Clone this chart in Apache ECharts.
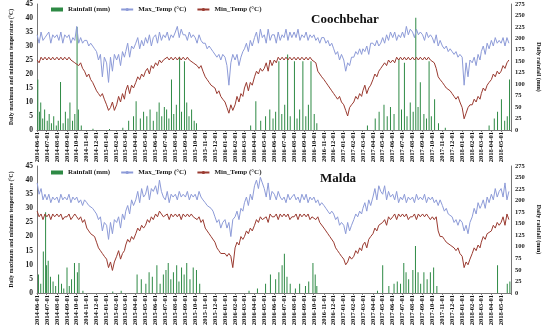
<!DOCTYPE html>
<html><head><meta charset="utf-8">
<script src="https://cdn.jsdelivr.net/npm/echarts@6/dist/echarts.min.js"></script>
<style>html,body{margin:0;padding:0;background:#fff}#c{width:550px;height:332px}</style>
</head><body><div id="c"></div>
<script>
// Month tick labels (x axis)
const tickLabels = [
'2014-06-01','2014-07-01','2014-08-01','2014-09-01','2014-10-01','2014-11-01','2014-12-01',
'2015-01-01','2015-02-01','2015-03-01','2015-04-01','2015-05-01','2015-06-01','2015-07-01','2015-08-01','2015-09-01','2015-10-01','2015-11-01','2015-12-01',
'2016-01-01','2016-02-01','2016-03-01','2016-04-01','2016-05-01','2016-06-01','2016-07-01','2016-08-01','2016-09-01','2016-10-01','2016-11-01','2016-12-01',
'2017-01-01','2017-02-01','2017-03-01','2017-04-01','2017-05-01','2017-06-01','2017-07-01','2017-08-01','2017-09-01','2017-10-01','2017-11-01','2017-12-01',
'2018-01-01','2018-02-01','2018-03-01','2018-04-01','2018-05-01'];
const sampleDays = ['01','07','13','19','25'];

// Coochbehar – five readings per month, Jun 2014 .. May 2018
const coochMax = [
34,31,35,32,33, 33,35,31,34,33, 34,32,35,31,34, 33,34,31,33,32, 37,31,33,31,32, 32,30,31,30,29, 28,25,27,19,26,
24,17,26,21,27, 25,27,23,28,26, 28,31,26,30,29, 31,33,29,32,30, 33,31,34,30,33, 34,31,35,32,34, 33,35,32,34,33,
35,37,33,36,34, 34,32,35,33,34, 33,31,34,32,31, 31,29,30,29,28, 28,26,27,25,27,
26,23,16,24,27, 25,27,23,26,28, 29,31,28,32,30, 33,35,31,36,33, 34,31,36,32,34, 34,31,35,32,34, 33,36,32,35,33,
35,33,36,32,34, 33,35,32,34,33, 34,32,33,31,33, 33,31,32,30,31, 29,27,28,25,27,
25,21,24,23,26, 26,28,27,29,27, 29,28,30,27,31, 31,30,32,30,31, 33,31,34,32,35, 33,35,32,34,33, 35,33,37,34,36,
35,33,36,34,35, 34,32,35,33,34, 33,31,34,30,32, 30,29,30,28,29, 28,27,28,26,27,
26,16,24,19,25, 24,26,23,27,25, 28,30,27,31,29, 32,30,33,31,32, 31,33,30,33,31];
const coochMin = [
25,24,26,25,26, 25,26,25,26,25, 26,25,26,25,26, 25,26,25,25,24, 24,23,24,22,21, 19,20,18,17,17, 14,13,12,13,11,
9,7,8,10,7, 9,12,10,13,11, 14,16,13,16,15, 17,19,18,20,19, 21,22,20,23,22, 24,23,25,24,25, 25,26,25,26,25,
26,25,26,25,26, 25,26,25,25,24, 24,23,22,23,21, 19,18,17,16,16, 15,13,14,12,11,
10,8,6,9,7, 9,12,10,13,12, 15,17,14,17,16, 19,21,20,22,21, 22,24,21,25,23, 25,24,26,25,26, 25,26,25,26,25,
26,25,26,25,26, 25,26,25,26,25, 25,24,21,20,19, 18,17,16,15,14, 13,12,11,12,10,
9,7,5,8,9, 10,12,11,13,12, 14,16,13,15,16, 18,20,19,21,22, 22,24,23,25,24, 25,24,26,25,26, 25,26,25,26,25,
26,25,26,25,26, 25,26,25,26,25, 25,24,22,19,18, 17,16,15,15,14, 13,12,11,12,10,
8,4,6,8,9, 9,11,10,12,11, 13,15,14,16,17, 18,20,19,21,20, 21,23,22,24,25];
const coochRain = [
['2014-06-03',110],['2014-06-08',40],['2014-06-12',60],['2014-06-18',25],['2014-06-24',45],
['2014-07-02',20],['2014-07-08',35],['2014-07-15',15],['2014-07-22',30],['2014-07-30',10],
['2014-08-05',20],['2014-08-12',105],['2014-08-20',15],['2014-08-27',40],
['2014-09-04',25],['2014-09-10',60],['2014-09-18',20],['2014-09-25',35],
['2014-10-02',225],['2014-10-06',45],['2014-10-15',10],['2014-11-20',3],
['2015-01-10',2],['2015-02-20',5],['2015-03-10',20],['2015-03-25',30],
['2015-04-02',63],['2015-04-15',25],['2015-04-25',40],['2015-05-05',30],['2015-05-15',45],['2015-05-25',20],
['2015-06-05',40],['2015-06-12',60],['2015-06-20',30],['2015-06-28',50],
['2015-07-05',45],['2015-07-12',25],['2015-07-20',110],['2015-07-27',35],
['2015-08-04',55],['2015-08-14',160],['2015-08-20',40],['2015-08-29',150],
['2015-09-05',60],['2015-09-12',30],['2015-09-20',45],['2015-09-28',20],['2015-10-05',15],
['2016-03-20',10],['2016-04-05',63],['2016-04-20',20],['2016-05-05',30],['2016-05-18',45],['2016-05-28',25],
['2016-06-05',40],['2016-06-15',150],['2016-06-24',35],['2016-07-03',55],['2016-07-12',165],['2016-07-20',30],
['2016-08-02',150],['2016-08-10',25],['2016-08-18',45],['2016-08-28',150],
['2016-09-06',30],['2016-09-14',55],['2016-09-22',150],['2016-10-02',35],['2016-10-10',15],
['2017-03-15',10],['2017-04-08',25],['2017-04-20',40],['2017-05-05',55],['2017-05-15',30],['2017-05-25',50],
['2017-06-05',35],['2017-06-20',155],['2017-06-28',45],['2017-07-07',147],['2017-07-15',30],['2017-07-25',60],
['2017-08-03',40],['2017-08-11',245],['2017-08-18',50],['2017-08-25',104],
['2017-09-05',35],['2017-09-13',25],['2017-09-21',150],['2017-09-28',30],['2017-10-08',67],['2017-10-20',15],
['2017-11-10',5],['2018-03-25',10],['2018-04-10',25],['2018-04-20',40],
['2018-05-02',67],['2018-05-12',20],['2018-05-20',30],['2018-05-27',110]];

// Malda
const maldaMax = [
39,35,37,33,35, 33,35,32,34,33, 34,32,35,33,34, 33,35,32,34,33, 34,32,33,31,33, 32,31,31,30,29, 28,26,27,22,25,
24,19,25,21,26, 25,27,23,28,26, 29,31,28,33,31, 33,36,32,37,34, 35,38,33,37,36, 38,35,40,36,34, 33,36,32,35,34,
35,33,36,34,35, 34,36,33,35,34, 35,33,36,34,33, 32,31,31,30,29, 27,25,26,23,25,
26,23,25,20,26, 27,29,26,30,29, 32,34,31,35,33, 38,40,37,41,39, 37,34,39,33,36, 35,33,36,34,33, 34,32,35,33,34,
35,33,34,32,35, 33,35,32,34,33, 34,32,33,31,32, 31,30,29,28,29, 28,26,27,24,25,
24,21,25,22,24, 26,28,27,29,28, 30,32,29,33,31, 34,37,33,38,36, 35,38,33,36,34, 35,33,36,32,34, 33,35,32,34,33,
34,32,35,33,34, 33,35,32,34,33, 34,32,33,31,33, 31,29,30,28,28, 27,25,26,24,26,
25,22,24,21,25, 27,30,28,32,30, 31,33,30,34,32, 35,33,37,34,36, 37,34,39,33,36];
const maldaMin = [
29,27,28,26,28, 27,28,26,28,27, 28,27,28,26,27, 27,28,26,27,28, 27,26,27,25,26, 23,22,21,21,20, 18,16,15,14,13,
12,9,11,8,11, 13,15,12,14,15, 17,19,18,20,19, 21,23,22,24,23, 24,26,25,27,26, 28,27,29,28,27, 27,28,26,28,27,
28,27,28,26,28, 27,28,27,28,27, 27,26,27,25,26, 23,22,21,20,20, 18,16,15,14,14,
14,13,14,13,9, 16,18,17,20,19, 20,22,21,23,22, 24,26,25,27,26, 26,27,25,28,27, 27,28,26,28,27, 28,27,28,26,27,
27,28,26,28,27, 28,27,28,26,27, 27,26,27,25,25, 23,22,21,20,20, 18,16,15,14,13,
12,10,11,13,12, 13,15,14,16,15, 17,18,16,19,20, 21,23,22,24,24, 25,26,24,27,26, 27,28,26,28,27, 28,27,28,26,27,
27,28,26,28,27, 28,27,28,27,26, 27,26,27,22,20, 20,19,18,18,17, 17,16,15,16,14,
13,9,11,10,12, 14,16,15,17,16, 18,20,19,21,21, 22,24,23,25,24, 25,27,24,28,26];
const maldaRain = [
['2014-06-05',40],['2014-06-12',20],['2014-06-20',90],['2014-06-27',175],['2014-06-30',60],
['2014-07-05',70],['2014-07-12',35],['2014-07-20',25],['2014-07-28',15],
['2014-08-06',40],['2014-08-15',20],['2014-08-22',10],
['2014-09-01',55],['2014-09-08',15],['2014-09-15',30],['2014-09-24',65],
['2014-10-03',45],['2014-10-08',65],['2014-10-20',5],['2015-01-20',3],['2015-02-15',5],
['2015-04-05',40],['2015-04-18',30],['2015-05-02',20],['2015-05-12',45],['2015-05-22',35],
['2015-06-05',60],['2015-06-15',20],['2015-06-25',40],['2015-07-03',50],['2015-07-10',65],['2015-07-18',30],['2015-07-26',45],
['2015-08-05',60],['2015-08-12',25],['2015-08-20',55],['2015-08-28',40],
['2015-09-05',65],['2015-09-15',30],['2015-09-25',55],['2015-10-05',50],['2015-10-15',20],
['2016-03-15',5],['2016-04-10',10],['2016-05-05',20],['2016-05-20',40],
['2016-06-05',30],['2016-06-15',45],['2016-06-25',60],['2016-07-02',85],['2016-07-10',35],['2016-07-20',20],
['2016-08-05',10],['2016-08-18',20],['2016-09-05',15],['2016-09-15',25],['2016-09-28',65],['2016-10-05',40],['2016-10-10',15],
['2017-04-15',5],['2017-05-01',60],['2017-05-20',15],['2017-06-05',20],['2017-06-15',25],['2017-06-25',20],
['2017-07-05',65],['2017-07-12',45],['2017-07-20',30],['2017-08-02',50],['2017-08-10',102],['2017-08-18',45],['2017-08-26',20],
['2017-09-05',45],['2017-09-15',30],['2017-09-25',45],['2017-10-05',55],['2017-10-15',15],
['2018-04-20',60],['2018-05-20',20],['2018-05-28',25]];

const panelTitles = ['Coochbehar', 'Malda'];
const seriesNames = ['Rainfall (mm)', 'Max_Temp (°C)', 'Min_Temp (°C)'];
const leftAxisName = 'Daily maximum and minimum temperature (°C)';
const rightAxisName = 'Daily rainfall (mm)';

// ---- build daily category axis ----
const days = [];
for (let t = Date.UTC(2014, 5, 1); t <= Date.UTC(2018, 4, 31); t += 86400000) {
  days.push(new Date(t).toISOString().slice(0, 10));
}
const tickSet = new Set(tickLabels);
const sampleDates = [];
tickLabels.forEach(m => sampleDays.forEach(d => sampleDates.push(m.slice(0, 8) + d)));
const pair = vals => vals.map((v, i) => [sampleDates[i], v]);

const FONT = 'Liberation Serif';
const panels = [
  {top: 4, height: 126, max: coochMax, min: coochMin, rain: coochRain, titleTop: 8, titleLeft: 306, legendTop: 1},
  {top: 166, height: 127, max: maldaMax, min: maldaMin, rain: maldaRain, titleTop: 167, titleLeft: 315, legendTop: 164}
];
const grid = [], xAxis = [], yAxis = [], series = [], title = [], legend = [];
panels.forEach((p, k) => {
  grid.push({left: 37, width: 476, top: p.top, height: p.height, containLabel: false});
  xAxis.push({
    type: 'category', gridIndex: k, data: days, boundaryGap: true,
    axisLine: {lineStyle: {color: '#777', width: 1}},
    axisTick: {show: true, length: 2, interval: (i, v) => tickSet.has(v), lineStyle: {color: '#777'}},
    axisLabel: {interval: (i, v) => tickSet.has(v), rotate: 90, margin: 2, fontFamily: FONT,
      fontWeight: 'bold', fontSize: 6.5, color: '#111'},
    splitLine: {show: false}
  });
  yAxis.push({
    type: 'value', gridIndex: k, min: 0, max: 45, interval: 5, position: 'left',
    name: leftAxisName, nameLocation: 'middle', nameGap: 22,
    nameTextStyle: {fontFamily: FONT, fontWeight: 'bold', fontSize: 5.6, color: '#111'},
    axisLine: {show: true, lineStyle: {color: '#777'}},
    axisTick: {show: false},
    axisLabel: {fontFamily: FONT, fontWeight: 'bold', fontSize: 7.5, color: '#222', margin: 4},
    splitLine: {show: false}
  });
  yAxis.push({
    type: 'value', gridIndex: k, min: 0, max: 275, interval: 25, position: 'right',
    name: rightAxisName, nameLocation: 'middle', nameGap: 25, nameRotate: -90,
    nameTextStyle: {fontFamily: FONT, fontWeight: 'bold', fontSize: 6, color: '#111'},
    axisLine: {show: true, lineStyle: {color: '#777'}},
    axisTick: {show: false},
    axisLabel: {fontFamily: FONT, fontWeight: 'bold', fontSize: 6.5, color: '#222', margin: 4},
    splitLine: {show: false}
  });
  series.push({
    name: seriesNames[0], type: 'bar', xAxisIndex: k, yAxisIndex: 2 * k + 1,
    data: p.rain, barWidth: 1, itemStyle: {color: '#2e8a45'}, z: 1, animation: false
  });
  series.push({
    name: seriesNames[1], type: 'line', xAxisIndex: k, yAxisIndex: 2 * k,
    data: pair(p.max), symbol: 'none', connectNulls: true,
    lineStyle: {color: '#8d9bd8', width: 1}, itemStyle: {color: '#8d9bd8'}, z: 2, animation: false
  });
  series.push({
    name: seriesNames[2], type: 'line', xAxisIndex: k, yAxisIndex: 2 * k,
    data: pair(p.min), symbol: 'none', connectNulls: true,
    lineStyle: {color: '#9a3a30', width: 1}, itemStyle: {color: '#9a3a30'}, z: 3, animation: false
  });
  title.push({text: panelTitles[k], left: p.titleLeft, top: p.titleTop,
    textStyle: {fontFamily: FONT, fontWeight: 'bold', fontSize: 13, color: '#111'}});
  legend.push({
    left: 46, top: p.legendTop, itemWidth: 12, itemHeight: 4, itemGap: 10,
    data: [{name: seriesNames[0], icon: 'rect'}, {name: seriesNames[1]}, {name: seriesNames[2]}],
    textStyle: {fontFamily: FONT, fontWeight: 'bold', fontSize: 7, color: '#222'}
  });
});

const chart = echarts.init(document.getElementById('c'), null, {renderer: 'canvas'});
chart.setOption({backgroundColor: '#fff', animation: false, title, legend, grid, xAxis, yAxis, series});
</script></body></html>
